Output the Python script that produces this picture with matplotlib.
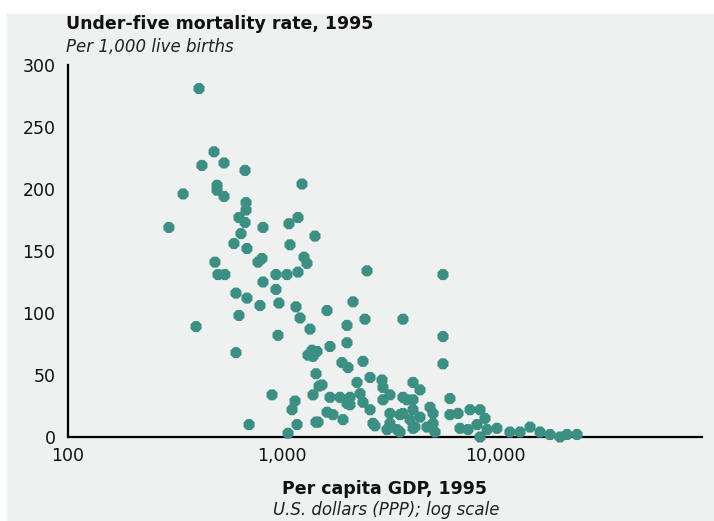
import matplotlib
matplotlib.use("Agg")
import matplotlib.pyplot as plt
import numpy as np

# per capita GDP (PPP US$) and under-five mortality per 1,000, 1995
gdp = [411, 483, 424, 538, 675, 1247, 346, 499, 499, 538,
       682, 682, 632, 675, 819, 1084, 1195, 297, 646, 599,
       689, 1096, 1435, 488, 776, 810, 1275, 1316, 504, 543,
       942, 1061, 1195, 819, 942, 612, 689, 793, 973, 1169,
       1222, 632, 398, 1360, 963, 1390, 1405, 1467, 612, 1451,
       1499, 903, 1405, 1157, 1120, 705, 1182, 1451, 1073, 2515,
       5707, 1634, 2163, 2027, 2460, 3707, 5707, 1687, 2027, 1331,
       1919, 2049, 2408, 5707, 2258, 2599, 2956, 2987, 1548, 4130,
       4453, 1687, 1879, 2027, 2333, 2408, 3221, 2987, 3707, 4130,
       6152, 1634, 1742, 1941, 1483, 2599, 2683, 3221, 3589, 4130,
       4453, 4963, 5126, 6152, 6712, 7638, 8508, 8980, 3120, 3589,
       4130, 4801, 5236, 2741, 6855, 7478, 8237, 9180, 10210, 8508,
       11750, 13100, 14590, 16250, 18100, 20150, 21730, 24210, 3707, 4219,
       2094, 3870, 3221, 3477, 2094, 4000, 5126]
u5mr = [281, 230, 219, 221, 215, 204, 196, 203, 199, 194,
        189, 183, 177, 173, 169, 172, 177, 169, 164, 156,
        152, 155, 162, 141, 141, 144, 145, 140, 131, 131,
        131, 131, 133, 125, 119, 116, 112, 106, 108, 105,
        96, 98, 89, 87, 82, 70, 65, 69, 68, 51,
        41, 34, 34, 29, 22, 10, 10, 12, 3, 134,
        131, 102, 109, 90, 95, 95, 81, 73, 76, 66,
        60, 56, 61, 59, 44, 48, 46, 40, 42, 44,
        38, 32, 32, 27, 35, 28, 34, 30, 32, 30,
        31, 20, 18, 14, 12, 22, 11, 19, 18, 22,
        16, 24, 19, 18, 19, 22, 22, 15, 6, 4,
        7, 8, 4, 9, 7, 6, 10, 6, 7, 0,
        4, 4, 8, 4, 2, 0, 2, 2, 19, 8,
        32, 30, 11, 6, 26, 14, 11]

xticks = [100, 1000, 10000]
xticklabels = ["100", "1,000", "10,000"]
yticks = [0, 50, 100, 150, 200, 250, 300]

bg = "#eef1f0"
teal = "#3b9083"

fig = plt.figure(figsize=(7.14, 5.21), dpi=100)
fig.patch.set_facecolor("white")
# grey panel behind the chart
fig.add_artist(plt.Rectangle((0.0098, 0), 0.99, 1 - 14 / 521,
                             transform=fig.transFigure, color=bg, zorder=0))

ax = fig.add_axes([68 / 714, 1 - 437 / 521, 634 / 714, 372 / 521])
ax.set_facecolor("none")
ax.set_xscale("log")
ax.set_xlim(100, 10 ** (2 + 634 / 213.5))
ax.set_ylim(0, 300)

ax.scatter(gdp, u5mr, s=74, marker="8", color=teal, edgecolors="none",
           zorder=3, clip_on=False)

for s in ["top", "right"]:
    ax.spines[s].set_visible(False)
ax.spines["left"].set_linewidth(1.6)
ax.spines["bottom"].set_linewidth(1.6)

ax.set_xticks(xticks)
ax.set_xticklabels(xticklabels)
ax.xaxis.set_minor_locator(matplotlib.ticker.NullLocator())
ax.set_yticks(yticks)
ax.tick_params(length=0, labelsize=12.5, colors="#111111")
ax.tick_params(axis="y", pad=9)
ax.tick_params(axis="x", pad=7)

fig.text(66 / 714, 1 - 29 / 521, "Under-five mortality rate, 1995",
         fontsize=12.5, fontweight="bold", color="#111111")
fig.text(66 / 714, 1 - 52 / 521, "Per 1,000 live births",
         fontsize=12, style="italic", color="#222222")
fig.text(385 / 714, 1 - 494 / 521, "Per capita GDP, 1995",
         fontsize=12.5, fontweight="bold", color="#111111", ha="center")
fig.text(386 / 714, 1 - 515 / 521, "U.S. dollars (PPP); log scale",
         fontsize=12, style="italic", color="#222222", ha="center")

fig.savefig("out.png", dpi=100, facecolor=fig.get_facecolor())
